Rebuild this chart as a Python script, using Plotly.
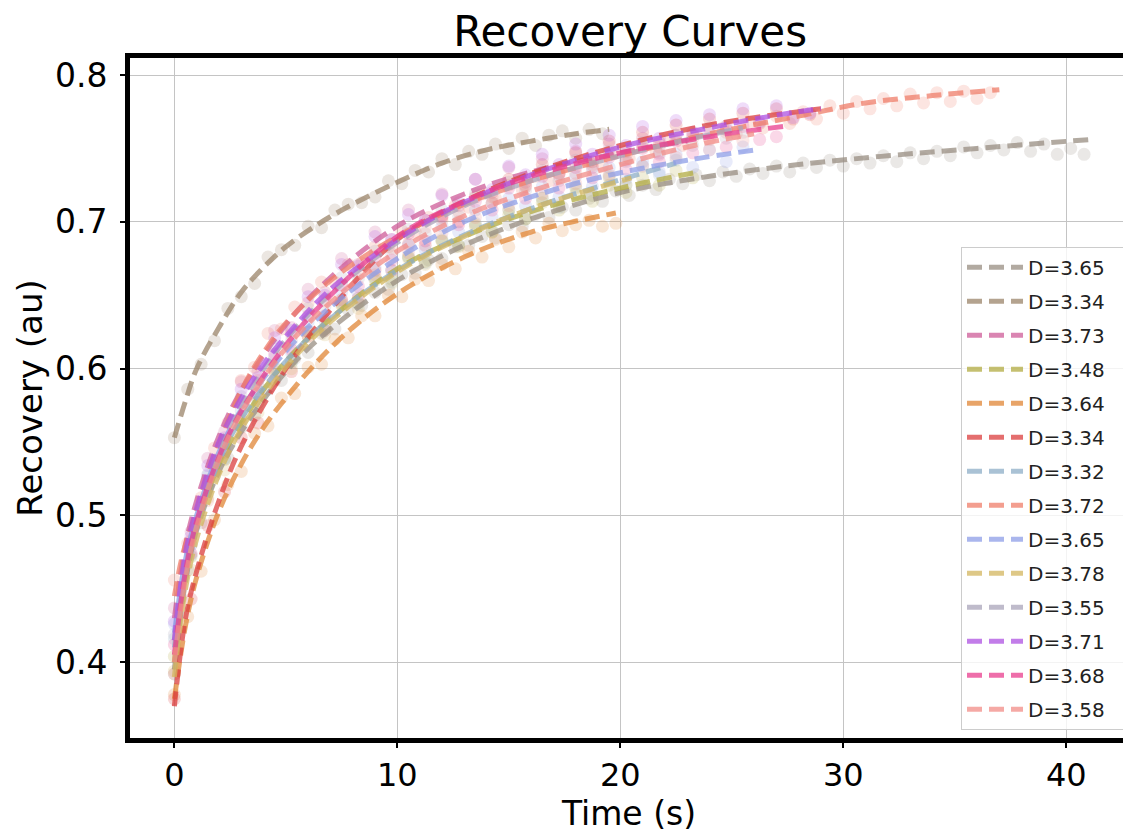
import numpy as np
import plotly.graph_objects as go

labels = ["D=3.65", "D=3.34", "D=3.73", "D=3.48", "D=3.64", "D=3.34", "D=3.32",
          "D=3.72", "D=3.65", "D=3.78", "D=3.55", "D=3.71", "D=3.68", "D=3.58"]

# sampling interval (s) of each recovery movie
sample_dt = [0.6, 0.6, 0.75, 0.75, 0.6, 0.75, 0.75, 0.6, 0.75, 0.75, 0.75, 0.75, 0.75, 0.75]

# measured recovery points (au)
pts_1 = [0.392, 0.463, 0.495, 0.527, 0.539, 0.560, 0.568, 0.586, 0.592, 0.607,
         0.611, 0.624, 0.627, 0.640, 0.643, 0.652, 0.654, 0.664, 0.665, 0.674,
         0.675, 0.683, 0.684, 0.690, 0.689, 0.698, 0.697, 0.705, 0.703, 0.710,
         0.708, 0.716, 0.714, 0.721, 0.718, 0.725, 0.722, 0.729, 0.726, 0.732,
         0.728, 0.734, 0.731, 0.736, 0.733, 0.738, 0.734, 0.740, 0.737, 0.742,
         0.738, 0.743, 0.740, 0.745, 0.741, 0.747, 0.743, 0.748, 0.745, 0.751,
         0.747, 0.752, 0.749, 0.754, 0.748, 0.753, 0.746, 0.750, 0.746]
pts_2 = [0.553, 0.586, 0.603, 0.619, 0.641, 0.649, 0.658, 0.676, 0.681, 0.684,
         0.697, 0.696, 0.708, 0.712, 0.713, 0.717, 0.728, 0.726, 0.735, 0.734,
         0.743, 0.739, 0.748, 0.746, 0.753, 0.750, 0.757, 0.752, 0.759, 0.762,
         0.757, 0.763, 0.760]
pts_3 = [0.437, 0.489, 0.539, 0.557, 0.591, 0.598, 0.626, 0.628, 0.654, 0.652,
         0.675, 0.671, 0.693, 0.688, 0.708, 0.701, 0.719, 0.711, 0.729, 0.720,
         0.737, 0.727, 0.743, 0.732, 0.748, 0.737, 0.753, 0.742, 0.757, 0.746, 0.759]
pts_4 = [0.404, 0.472, 0.519, 0.538, 0.567, 0.577, 0.600, 0.605, 0.625, 0.627,
         0.644, 0.645, 0.662, 0.661, 0.676, 0.673, 0.687, 0.684, 0.697, 0.693,
         0.705, 0.702, 0.713, 0.708, 0.719, 0.714, 0.725, 0.720, 0.730, 0.725,
         0.735, 0.730]
pts_5 = [0.378, 0.431, 0.462, 0.497, 0.521, 0.530, 0.556, 0.561, 0.580, 0.583,
         0.601, 0.603, 0.620, 0.621, 0.636, 0.636, 0.650, 0.649, 0.661, 0.660,
         0.671, 0.668, 0.680, 0.676, 0.688, 0.683, 0.693, 0.689, 0.699, 0.694,
         0.698, 0.701, 0.697, 0.699]
pts_6 = [0.375, 0.443, 0.493, 0.516, 0.553, 0.563, 0.592, 0.598, 0.622, 0.626,
         0.647, 0.648, 0.667, 0.667, 0.685, 0.684, 0.703, 0.700, 0.717, 0.713,
         0.729, 0.724, 0.739, 0.733, 0.747, 0.741, 0.755, 0.748, 0.761, 0.754,
         0.766, 0.759, 0.770, 0.763, 0.774, 0.767, 0.777, 0.770, 0.773]
pts_7 = [0.416, 0.473, 0.521, 0.539, 0.571, 0.577, 0.601, 0.604, 0.625, 0.626,
         0.645, 0.644, 0.661, 0.659, 0.676, 0.672, 0.688, 0.684, 0.699, 0.694,
         0.708, 0.702, 0.716, 0.710, 0.724, 0.718, 0.731, 0.725, 0.738, 0.732, 0.742]
pts_8 = [0.456, 0.481, 0.512, 0.546, 0.563, 0.592, 0.601, 0.624, 0.627, 0.642,
         0.645, 0.659, 0.659, 0.671, 0.672, 0.683, 0.683, 0.694, 0.693, 0.703,
         0.701, 0.711, 0.710, 0.719, 0.716, 0.725, 0.722, 0.731, 0.728, 0.737,
         0.733, 0.741, 0.738, 0.747, 0.743, 0.751, 0.748, 0.756, 0.752, 0.760,
         0.756, 0.764, 0.760, 0.768, 0.764, 0.772, 0.767, 0.775, 0.770, 0.779,
         0.774, 0.782, 0.777, 0.784, 0.779, 0.787, 0.781, 0.788, 0.782, 0.789,
         0.784, 0.788]
pts_9 = [0.426, 0.480, 0.527, 0.545, 0.577, 0.583, 0.608, 0.611, 0.632, 0.633,
         0.652, 0.651, 0.669, 0.667, 0.684, 0.681, 0.697, 0.693, 0.708, 0.703,
         0.716, 0.711, 0.724, 0.717, 0.731, 0.724, 0.737, 0.729, 0.741, 0.734,
         0.746, 0.737, 0.749, 0.741, 0.751]
pts_10 = [0.394, 0.463, 0.512, 0.531, 0.564, 0.570, 0.596, 0.600, 0.622, 0.623,
          0.643, 0.641, 0.660, 0.658, 0.675, 0.671, 0.687, 0.683, 0.698, 0.693,
          0.708, 0.702, 0.716, 0.711, 0.723, 0.718, 0.730, 0.725]
pts_11 = [0.419, 0.480, 0.528, 0.548, 0.581, 0.589, 0.615, 0.619, 0.641, 0.642,
          0.662, 0.661, 0.680, 0.678, 0.695, 0.692, 0.708, 0.704, 0.719, 0.713,
          0.727, 0.721, 0.735, 0.728, 0.742, 0.735, 0.748, 0.741, 0.754, 0.747,
          0.759, 0.752, 0.764, 0.757, 0.761]
pts_12 = [0.428, 0.486, 0.534, 0.553, 0.586, 0.594, 0.621, 0.626, 0.649, 0.650,
          0.671, 0.670, 0.690, 0.688, 0.705, 0.701, 0.718, 0.713, 0.729, 0.722,
          0.738, 0.732, 0.746, 0.739, 0.753, 0.746, 0.759, 0.752, 0.765, 0.757,
          0.769, 0.761, 0.773, 0.765, 0.777, 0.768, 0.779, 0.771, 0.774]
pts_13 = [0.412, 0.474, 0.524, 0.543, 0.577, 0.583, 0.610, 0.613, 0.636, 0.636,
          0.657, 0.656, 0.676, 0.674, 0.692, 0.687, 0.704, 0.698, 0.714, 0.708,
          0.723, 0.716, 0.731, 0.723, 0.737, 0.730, 0.744, 0.736, 0.750, 0.741,
          0.755, 0.747, 0.760, 0.751, 0.765, 0.756, 0.758]
pts_14 = [0.392, 0.483, 0.510, 0.551, 0.565, 0.592, 0.598, 0.623, 0.625, 0.646,
          0.646, 0.665, 0.664, 0.682, 0.679, 0.696, 0.692, 0.707, 0.703, 0.717,
          0.711, 0.725, 0.719, 0.733, 0.726, 0.739, 0.732, 0.745, 0.738, 0.751,
          0.744, 0.757, 0.749, 0.761, 0.755]

# fitted curves (knots, s / au)
fit_t_1 = [0, 0.5, 1, 2, 3, 5, 7, 10, 13, 16, 20, 24, 28, 32, 36, 41]
fit_y_1 = [0.395, 0.455, 0.49, 0.53, 0.557, 0.598, 0.627, 0.660, 0.684, 0.702, 0.720, 0.731, 0.739, 0.745, 0.750, 0.756]
fit_t_2 = [0, 0.5, 1, 2, 3, 4, 5, 6.4, 8, 10, 12, 14, 16, 18, 19.5]
fit_y_2 = [0.553, 0.578, 0.600, 0.628, 0.652, 0.669, 0.683, 0.698, 0.712, 0.727, 0.740, 0.749, 0.755, 0.760, 0.763]
fit_t_3 = [0, 0.5, 1, 2, 3, 5, 7, 10, 13, 16, 20, 23]
fit_y_3 = [0.43, 0.48, 0.51, 0.554, 0.585, 0.630, 0.662, 0.697, 0.719, 0.734, 0.747, 0.755]
fit_t_4 = [0, 0.5, 1, 2, 3, 5, 7, 10, 13, 16, 20, 23.5]
fit_y_4 = [0.40, 0.46, 0.493, 0.535, 0.563, 0.605, 0.634, 0.668, 0.690, 0.707, 0.723, 0.734]
fit_t_5 = [0, 0.5, 1, 2, 3, 4, 5, 6, 7, 8, 10, 13, 16, 19.8]
fit_y_5 = [0.375, 0.425, 0.458, 0.503, 0.535, 0.560, 0.580, 0.598, 0.614, 0.628, 0.651, 0.676, 0.693, 0.706]
fit_t_6 = [0, 0.5, 1, 2, 3, 5, 7, 10, 13, 16, 20, 24, 29]
fit_y_6 = [0.37, 0.43, 0.462, 0.51, 0.547, 0.600, 0.640, 0.688, 0.714, 0.733, 0.752, 0.766, 0.777]
fit_t_7 = [0, 0.5, 1, 2, 3, 5, 7, 10, 13, 16, 19, 22.5]
fit_y_7 = [0.41, 0.462, 0.494, 0.537, 0.566, 0.605, 0.634, 0.667, 0.691, 0.709, 0.724, 0.740]
fit_t_8 = [0, 0.4, 1, 2, 3, 4, 5, 7, 10, 13, 16, 20, 24, 28, 31, 34, 37]
fit_y_8 = [0.445, 0.475, 0.503, 0.548, 0.585, 0.611, 0.631, 0.660, 0.690, 0.712, 0.728, 0.745, 0.760, 0.772, 0.781, 0.786, 0.790]
fit_t_9 = [0, 0.5, 1, 2, 3, 5, 7, 10, 13, 16, 19, 23, 26.1]
fit_y_9 = [0.42, 0.47, 0.50, 0.543, 0.572, 0.612, 0.642, 0.675, 0.700, 0.717, 0.730, 0.742, 0.749]
fit_t_10 = [0, 0.5, 1, 2, 3, 5, 7, 10, 13, 16, 20.5]
fit_y_10 = [0.39, 0.45, 0.484, 0.528, 0.559, 0.601, 0.632, 0.666, 0.690, 0.709, 0.730]
fit_t_11 = [0, 0.5, 1, 2, 3, 5, 7, 10, 13, 16, 20, 23, 25.5]
fit_y_11 = [0.415, 0.468, 0.50, 0.545, 0.576, 0.620, 0.651, 0.686, 0.711, 0.728, 0.745, 0.756, 0.764]
fit_t_12 = [0, 0.5, 1, 2, 3, 4, 5, 7, 10, 12, 14, 16, 18, 20, 22, 24, 26, 28, 29]
fit_y_12 = [0.415, 0.475, 0.505, 0.55, 0.58, 0.603, 0.622, 0.654, 0.688, 0.706, 0.720, 0.732, 0.742, 0.751, 0.758, 0.764, 0.770, 0.775, 0.777]
fit_t_13 = [0, 0.5, 1, 2, 3, 5, 7, 10, 13, 16, 20, 24, 27.3]
fit_y_13 = [0.405, 0.462, 0.496, 0.540, 0.571, 0.616, 0.650, 0.690, 0.714, 0.731, 0.747, 0.758, 0.765]
fit_t_14 = [0, 0.5, 1, 2, 3, 5, 7, 10, 13, 16, 20, 23, 26]
fit_y_14 = [0.40, 0.458, 0.492, 0.538, 0.570, 0.614, 0.645, 0.680, 0.704, 0.721, 0.739, 0.751, 0.760]

x_ticks = [0, 10, 20, 30, 40]
y_ticks = [0.4, 0.5, 0.6, 0.7, 0.8]

# styles
base_colors = [(152, 142, 129), (155, 132, 105), (205, 92, 152), (178, 171, 65),
               (224, 134, 54), (219, 62, 62), (141, 174, 199), (239, 126, 105),
               (142, 157, 231), (211, 181, 95), (169, 164, 185), (174, 81, 225),
               (232, 62, 142), (242, 140, 135)]

points = [pts_1, pts_2, pts_3, pts_4, pts_5, pts_6, pts_7, pts_8, pts_9, pts_10,
          pts_11, pts_12, pts_13, pts_14]
fits_t = [fit_t_1, fit_t_2, fit_t_3, fit_t_4, fit_t_5, fit_t_6, fit_t_7, fit_t_8,
          fit_t_9, fit_t_10, fit_t_11, fit_t_12, fit_t_13, fit_t_14]
fits_y = [fit_y_1, fit_y_2, fit_y_3, fit_y_4, fit_y_5, fit_y_6, fit_y_7, fit_y_8,
          fit_y_9, fit_y_10, fit_y_11, fit_y_12, fit_y_13, fit_y_14]


def rgba(c, a):
    return f"rgba({c[0]},{c[1]},{c[2]},{a})"


FONT = "DejaVu Sans"
PAD = "\u00a0\u00a0"
fig = go.Figure()
for i in range(len(labels)):
    y = points[i]
    t = np.arange(len(y)) * sample_dt[i]
    fig.add_trace(go.Scatter(
        x=t, y=y, mode="markers",
        marker=dict(size=13, color=rgba(base_colors[i], 0.2), line=dict(width=0)),
        showlegend=False, hoverinfo="skip", legendgroup=f"g{i}"))
for i in range(len(labels)):
    fig.add_trace(go.Scatter(
        x=fits_t[i], y=fits_y[i], mode="lines", name=labels[i] + PAD,
        line=dict(color=rgba(base_colors[i], 0.75), width=5, dash="15px,7px",
                  shape="spline", smoothing=1.0),
        legendgroup=f"g{i}"))

# the page adds an 8px body margin, so the figure is 8px smaller than the window
fig.update_layout(
    width=1123, height=830,
    margin=dict(l=122, r=3, t=50, b=100, autoexpand=False),
    paper_bgcolor="white", plot_bgcolor="white",
    font=dict(family=FONT, color="black"),
    title=dict(text="Recovery Curves", x=0.554, xanchor="center", y=0.972,
               yanchor="middle", yref="container", font=dict(size=42, family=FONT)),
    legend=dict(x=0.996, xanchor="right", y=0.012, yanchor="bottom",
                bgcolor="rgba(255,255,255,0.8)", bordercolor="#cccccc", borderwidth=1,
                font=dict(size=20, family=FONT, color="#222222"),
                tracegroupgap=5, itemwidth=56),
    showlegend=True,
)
fig.update_xaxes(
    range=[-1.99, 42.77], tickvals=x_ticks, ticktext=[str(v) for v in x_ticks],
    automargin=False,
    showgrid=True, gridcolor="#c4c4c4", gridwidth=1, zeroline=False,
    showline=True, linecolor="black", linewidth=5, mirror=True,
    ticks="outside", ticklen=5, tickwidth=2, tickcolor="black",
    tickfont=dict(size=32, family=FONT), ticklabelstandoff=0,
    title=dict(text="Time (s)", font=dict(size=33, family=FONT), standoff=4),
)
fig.update_yaxes(
    range=[0.3484, 0.8116], tickvals=y_ticks, ticktext=[f"{v:.1f}" for v in y_ticks],
    automargin=False,
    showgrid=True, gridcolor="#c4c4c4", gridwidth=1, zeroline=False,
    showline=True, linecolor="black", linewidth=5, mirror=True,
    ticks="outside", ticklen=5, tickwidth=2, tickcolor="black",
    tickfont=dict(size=33, family=FONT), ticklabelstandoff=6,
    title=dict(text="Recovery (au)", font=dict(size=34, family=FONT), standoff=4),
)

fig.write_html("out.html")
